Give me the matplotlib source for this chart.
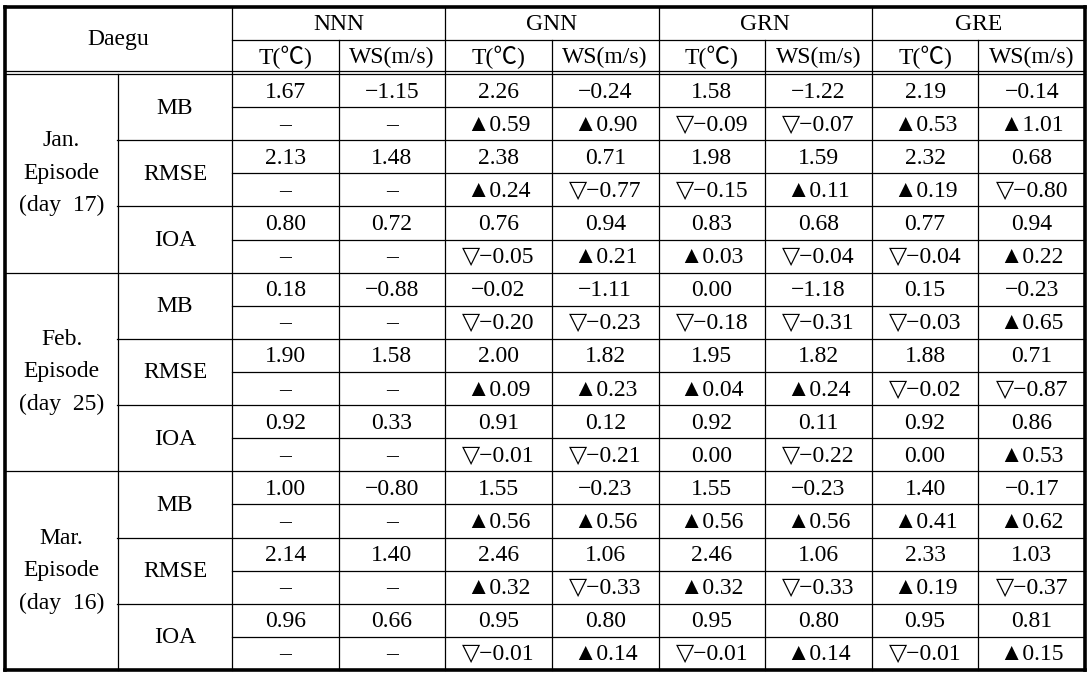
import matplotlib
matplotlib.use("Agg")
import matplotlib.pyplot as plt

# table content
models = ["NNN", "GNN", "GRN", "GRE"]
variables = ["T(℃)", "WS(m/s)"]
episodes = ["Jan.\nEpisode\n(day  17)", "Feb.\nEpisode\n(day  25)", "Mar.\nEpisode\n(day  16)"]
metrics = ["MB", "RMSE", "IOA"]

# values: one row per metric, columns = NNN T, NNN WS, GNN T, GNN WS, GRN T, GRN WS, GRE T, GRE WS
jan_vals = [[1.67, -1.15, 2.26, -0.24, 1.58, -1.22, 2.19, -0.14],
            [2.13, 1.48, 2.38, 0.71, 1.98, 1.59, 2.32, 0.68],
            [0.80, 0.72, 0.76, 0.94, 0.83, 0.68, 0.77, 0.94]]
jan_diff = [[None, None, 0.59, 0.90, -0.09, -0.07, 0.53, 1.01],
            [None, None, 0.24, -0.77, -0.15, 0.11, 0.19, -0.80],
            [None, None, -0.05, 0.21, 0.03, -0.04, -0.04, 0.22]]
feb_vals = [[0.18, -0.88, -0.02, -1.11, 0.00, -1.18, 0.15, -0.23],
            [1.90, 1.58, 2.00, 1.82, 1.95, 1.82, 1.88, 0.71],
            [0.92, 0.33, 0.91, 0.12, 0.92, 0.11, 0.92, 0.86]]
feb_diff = [[None, None, -0.20, -0.23, -0.18, -0.31, -0.03, 0.65],
            [None, None, 0.09, 0.23, 0.04, 0.24, -0.02, -0.87],
            [None, None, -0.01, -0.21, 0.00, -0.22, 0.00, 0.53]]
mar_vals = [[1.00, -0.80, 1.55, -0.23, 1.55, -0.23, 1.40, -0.17],
            [2.14, 1.40, 2.46, 1.06, 2.46, 1.06, 2.33, 1.03],
            [0.96, 0.66, 0.95, 0.80, 0.95, 0.80, 0.95, 0.81]]
mar_diff = [[None, None, 0.56, 0.56, 0.56, 0.56, 0.41, 0.62],
            [None, None, 0.32, -0.33, 0.32, -0.33, 0.19, -0.37],
            [None, None, -0.01, 0.14, -0.01, 0.14, -0.01, 0.15]]

all_vals = [jan_vals, feb_vals, mar_vals]
all_diff = [jan_diff, feb_diff, mar_diff]

FONT = ["Liberation Serif", "DejaVu Sans"]
HEAD_FONT = ["Liberation Serif", "Noto Sans CJK KR", "DejaVu Sans"]
FS = 17


def fmt_val(v):
    s = f"{v:.2f}"
    return s.replace("-", "−")


def fmt_diff(d):
    if d is None:
        return "–"
    if d > 0:
        return "▲" + f"{d:.2f}"
    if d < 0:
        return "▽" + f"{d:.2f}".replace("-", "−")
    return "0.00"


fig = plt.figure(figsize=(10.9, 6.8), dpi=100)
ax = fig.add_axes([0, 0, 1, 1])
ax.set_xlim(0, 1090)
ax.set_ylim(680, 0)
ax.axis("off")

# grid geometry (pixels)
x_left, x_ep, x_met, x_right = 5, 118, 232, 1085
y_top, y_h1, y_h2a, y_h2b, y_bot = 6.5, 40, 71, 74, 670
ncol = 8
nrow = 18
cw = (x_right - x_met) / ncol
rh = (y_bot - y_h2b) / nrow
col_x = [x_met + i * cw for i in range(ncol + 1)]
row_y = [y_h2b + k * rh for k in range(nrow + 1)]

thin = 0.9
thick = 2.6

# outer border
for xs, ys in [([x_left, x_right], [y_top, y_top]), ([x_left, x_right], [y_bot, y_bot]),
               ([x_left, x_left], [y_top, y_bot]), ([x_right, x_right], [y_top, y_bot])]:
    ax.plot(xs, ys, color="black", lw=thick, solid_capstyle="projecting")

# header lines
ax.plot([x_met, x_right], [y_h1, y_h1], color="black", lw=thin)
ax.plot([x_left, x_right], [y_h2a, y_h2a], color="black", lw=thin)
ax.plot([x_left, x_right], [y_h2b, y_h2b], color="black", lw=thin)

# vertical lines
ax.plot([x_ep, x_ep], [y_h2b, y_bot], color="black", lw=thin)
for i, cx in enumerate(col_x[:-1]):
    y0 = y_top if i % 2 == 0 else y_h1
    ax.plot([cx, cx], [y0, y_bot], color="black", lw=thin)

# horizontal data lines
for k in range(1, nrow):
    if k % 6 == 0:
        x0 = x_left
    elif k % 2 == 0:
        x0 = x_ep - 1
    else:
        x0 = x_met
    ax.plot([x0, x_right], [row_y[k], row_y[k]], color="black", lw=thin)

# header text
ax.text((x_left + x_met) / 2, (y_top + y_h2a) / 2 + 1, "Daegu", ha="center", va="center",
        fontsize=FS, family=FONT)
for m, name in enumerate(models):
    ax.text((col_x[2 * m] + col_x[2 * m + 2]) / 2, (y_top + y_h1) / 2 + 1.5, name,
            ha="center", va="center", fontsize=FS, family=FONT)
    for v, var in enumerate(variables):
        ax.text((col_x[2 * m + v] + col_x[2 * m + v + 1]) / 2, (y_h1 + y_h2a) / 2 + 1.5, var,
                ha="center", va="center", fontsize=FS, family=HEAD_FONT)

# body text
for e, ep in enumerate(episodes):
    y0 = row_y[6 * e]
    y1 = row_y[6 * e + 6]
    ax.text((x_left + x_ep) / 2, (y0 + y1) / 2, ep, ha="center", va="center",
            fontsize=FS, family=FONT, linespacing=1.7)
    for mi, met in enumerate(metrics):
        r = 6 * e + 2 * mi
        ax.text((x_ep + x_met) / 2, row_y[r + 1] + 1, met, ha="center", va="center",
                fontsize=FS, family=FONT)
        for c in range(ncol):
            cx = (col_x[c] + col_x[c + 1]) / 2
            ax.text(cx, (row_y[r] + row_y[r + 1]) / 2 + 1.5, fmt_val(all_vals[e][mi][c]),
                    ha="center", va="center", fontsize=FS, family=FONT)
            ax.text(cx, (row_y[r + 1] + row_y[r + 2]) / 2 + 1.5, fmt_diff(all_diff[e][mi][c]),
                    ha="center", va="center", fontsize=FS, family=FONT)

fig.savefig("out.png", dpi=100, facecolor="white")
